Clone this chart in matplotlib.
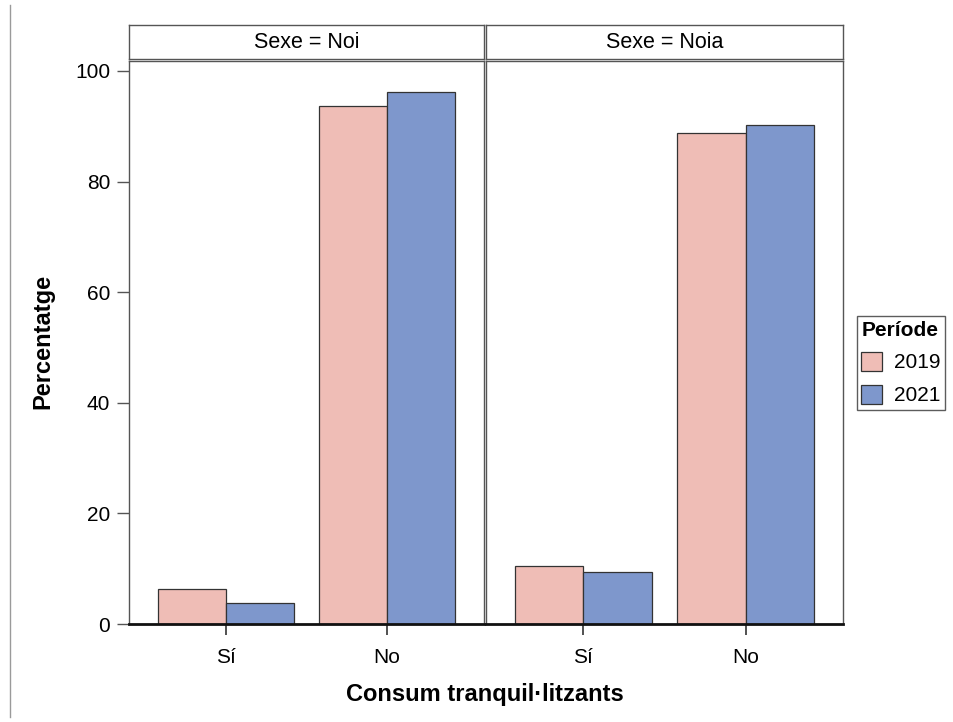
import matplotlib.pyplot as plt
import numpy as np
from matplotlib.lines import Line2D

plt.rcParams['font.family'] = ['Liberation Sans', 'DejaVu Sans']
plt.rcParams['font.size'] = 15

# Data
categories = ['Sí', 'No']
panels = ['Noi', 'Noia']
periods = ['2019', '2021']
values = {
    'Noi':  {'2019': [6.3, 93.7], '2021': [3.8, 96.2]},
    'Noia': {'2019': [10.5, 88.8], '2021': [9.4, 90.2]},
}
colors = {'2019': '#EFBDB6', '2021': '#7E97CC'}

fig = plt.figure(figsize=(9.54, 7.22), dpi=100)

# thin gray line on the left edge
fig.add_artist(Line2D([0.0105, 0.0105], [0.007, 0.993], color='#9a9a9a', lw=1.0))

bottom = 1 - 624 / 722
height = (624 - 61) / 722
lefts = [129 / 954, 486 / 954]
widths = [(484 - 129) / 954, (843 - 486) / 954]
strip_b = 1 - 59 / 722
strip_h = (59 - 25) / 722

x = np.arange(len(categories))
w = 0.42

axes = []
for i, p in enumerate(panels):
    ax = fig.add_axes([lefts[i], bottom, widths[i], height])
    for j, per in enumerate(periods):
        ax.bar(x + (j - 0.5) * w, values[p][per], width=w, color=colors[per],
               edgecolor='#333333', linewidth=0.9, label=per)
    ax.set_xlim(-0.6, 1.6)
    ax.set_ylim(0, 101.8)
    ax.set_xticks(x)
    ax.set_xticklabels(categories)
    ax.tick_params(axis='x', length=8, width=1.2, color='#333333', pad=9)
    for s in ['top', 'right', 'left']:
        ax.spines[s].set_color('#555555')
        ax.spines[s].set_linewidth(1.0)
    ax.spines['bottom'].set_color('#111111')
    ax.spines['bottom'].set_linewidth(2.0)
    if i == 0:
        ax.set_yticks([0, 20, 40, 60, 80, 100])
        ax.tick_params(axis='y', length=8.5, width=1.0, color='#555555', pad=5)
    else:
        ax.set_yticks([])
    # strip
    sax = fig.add_axes([lefts[i], strip_b, widths[i], strip_h])
    sax.set_xticks([])
    sax.set_yticks([])
    for s in sax.spines.values():
        s.set_color('#555555')
        s.set_linewidth(1.0)
    sax.text(0.5, 0.5, 'Sexe = ' + p, ha='center', va='center', fontsize=15.5,
             transform=sax.transAxes)
    axes.append(ax)

fig.text(43 / 954, 1 - 341 / 722, 'Percentatge', rotation=90,
         ha='center', va='center', fontweight='bold', fontsize=17)
fig.text(485 / 954, 1 - 695 / 722, 'Consum tranquil·litzants',
         ha='center', va='center', fontweight='bold', fontsize=17)

handles, labels = axes[0].get_legend_handles_labels()
leg = fig.legend(handles, labels, title='Període', loc='center left',
                 bbox_to_anchor=(857 / 954, 1 - 363 / 722), frameon=True,
                 fancybox=False, edgecolor='#333333', fontsize=15,
                 title_fontproperties={'weight': 'bold', 'size': 15},
                 handlelength=1.0, handleheight=1.0, borderpad=0.2,
                 labelspacing=0.6, handletextpad=0.6, borderaxespad=0,
                 alignment='left')
leg.get_frame().set_linewidth(1.0)

fig.savefig('out.png', dpi=100)
